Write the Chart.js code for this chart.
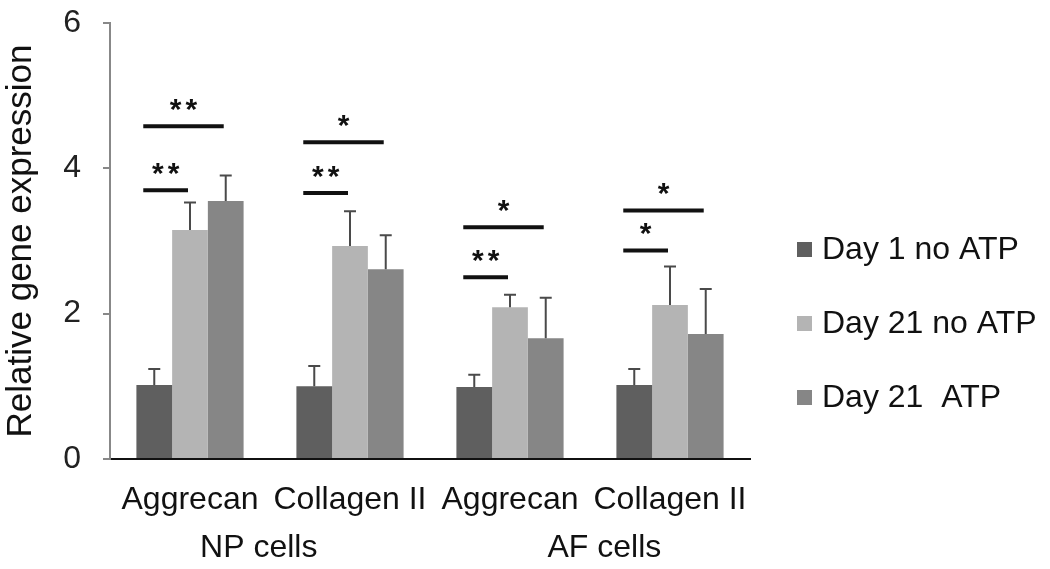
<!DOCTYPE html>
<html>
<head>
<meta charset="utf-8">
<script src="https://cdn.jsdelivr.net/npm/chart.js@4"></script>
<style>
  html, body { margin: 0; padding: 0; background: #fff; }
  #wrap { width: 1050px; height: 569px; }
</style>
</head>
<body>
<div id="wrap"><canvas id="geneChart" width="1050" height="569"></canvas></div>
<script>
// Data
const categories = ['Aggrecan', 'Collagen II', 'Aggrecan', 'Collagen II'];
const cellGroups = ['NP cells', 'AF cells'];
const seriesNames = ['Day 1 no ATP', 'Day 21 no ATP', 'Day 21  ATP'];
const day1NoAtp = [1.02, 1.00, 0.99, 1.02];
const day21NoAtp = [3.15, 2.93, 2.09, 2.12];
const day21Atp = [3.55, 2.61, 1.66, 1.72];
const day1NoAtpErr = [0.22, 0.28, 0.17, 0.22];
const day21NoAtpErr = [0.38, 0.48, 0.17, 0.53];
const day21AtpErr = [0.35, 0.47, 0.56, 0.62];
const yTicks = [0, 2, 4, 6];

// significance bars: category, compared series, height, label
const sigCategory = [0, 0, 1, 1, 2, 2, 3, 3];
const sigTarget = [1, 2, 1, 2, 1, 2, 1, 2];
const sigHeight = [3.70, 4.58, 3.66, 4.36, 2.50, 3.19, 2.87, 3.42];
const sigLabel = ['**', '**', '**', '*', '**', '*', '*', '*'];

const colors = ['#5f5f5f', '#b4b4b4', '#868686'];
const errors = [day1NoAtpErr, day21NoAtpErr, day21AtpErr];
const FONT = "'Liberation Sans', Arial, sans-serif";

// Error bars (upper only) + significance lines + cell labels + legend
const extrasPlugin = {
  id: 'extras',
  afterDatasetsDraw(chart) {
    const ctx = chart.ctx;
    const y = chart.scales.y;
    const x = chart.scales.x;
    const area = chart.chartArea;

    // error bars
    ctx.save();
    ctx.strokeStyle = '#4a4a4a';
    ctx.lineWidth = 2;
    chart.data.datasets.forEach((ds, i) => {
      const meta = chart.getDatasetMeta(i);
      meta.data.forEach((bar, j) => {
        const top = y.getPixelForValue(ds.data[j] + errors[i][j]);
        ctx.beginPath();
        ctx.moveTo(bar.x, bar.y);
        ctx.lineTo(bar.x, top);
        ctx.moveTo(bar.x - 6, top);
        ctx.lineTo(bar.x + 6, top);
        ctx.stroke();
      });
    });
    ctx.restore();

    // significance lines
    ctx.save();
    ctx.strokeStyle = '#111';
    ctx.fillStyle = '#111';
    ctx.lineWidth = 4;
    ctx.font = 'bold 30px ' + FONT;
    ctx.textAlign = 'center';
    ctx.textBaseline = 'alphabetic';
    ctx.letterSpacing = '4px';
    sigCategory.forEach((c, k) => {
      const from = chart.getDatasetMeta(0).data[c];
      const to = chart.getDatasetMeta(sigTarget[k]).data[c];
      const x0 = from.x - 11;
      const x1 = to.x - 2;
      const yy = y.getPixelForValue(sigHeight[k]);
      ctx.beginPath();
      ctx.moveTo(x0, yy);
      ctx.lineTo(x1, yy);
      ctx.stroke();
      ctx.fillText(sigLabel[k], (x0 + x1) / 2 + 2, yy - 7);
    });
    ctx.restore();

    // cell type labels under the category labels
    ctx.save();
    ctx.fillStyle = '#111';
    ctx.font = '32px ' + FONT;
    ctx.textAlign = 'center';
    ctx.textBaseline = 'alphabetic';
    const groupPos = [0.43, 2.59];
    cellGroups.forEach((g, i) => {
      ctx.fillText(g, x.getPixelForValue(groupPos[i]), area.bottom + 98);
    });
    ctx.restore();

    // legend
    ctx.save();
    ctx.font = '32px ' + FONT;
    ctx.textAlign = 'left';
    ctx.textBaseline = 'middle';
    seriesNames.forEach((name, i) => {
      const ly = area.top + 226 + i * 74;
      const lx = area.right + 47;
      ctx.fillStyle = colors[i];
      ctx.fillRect(lx, ly - 7, 15, 15);
      ctx.fillStyle = '#111';
      ctx.fillText(name, lx + 25, ly + 1);
    });
    ctx.restore();
  }
};

const ctx = document.getElementById('geneChart').getContext('2d');
const geneChart = new Chart(ctx, {
  type: 'bar',
  data: {
    labels: categories,
    datasets: [
      { label: seriesNames[0], data: day1NoAtp, backgroundColor: colors[0] },
      { label: seriesNames[1], data: day21NoAtp, backgroundColor: colors[1] },
      { label: seriesNames[2], data: day21Atp, backgroundColor: colors[2] }
    ]
  },
  options: {
    responsive: false,
    animation: false,
    devicePixelRatio: 1,
    layout: { padding: { left: 0, right: 300, top: 23, bottom: 0 } },
    datasets: {
      bar: { categoryPercentage: 0.67, barPercentage: 1.0, borderWidth: 0 }
    },
    plugins: {
      legend: { display: false },
      tooltip: { enabled: false }
    },
    scales: {
      x: {
        grid: { display: false },
        border: { display: true, color: '#111', width: 2 },
        ticks: {
          color: '#111',
          font: { family: FONT, size: 32 },
          padding: 14,
          maxRotation: 0,
          autoSkip: false
        },
        afterFit: (s) => { s.height = 110; }
      },
      y: {
        min: 0,
        max: 6,
        afterBuildTicks: (s) => { s.ticks = yTicks.map(v => ({ value: v })); },
        grid: {
          display: true,
          drawOnChartArea: false,
          drawTicks: true,
          tickLength: 7,
          color: '#888',
          lineWidth: 2
        },
        border: { display: true, color: '#888', width: 2 },
        ticks: {
          color: '#222',
          font: { family: FONT, size: 32, lineHeight: 1 },
          padding: 22
        },
        title: {
          display: true,
          text: 'Relative gene expression',
          color: '#111',
          font: { family: FONT, size: 35 },
          padding: 0
        },
        afterFit: (s) => {
          s.width = 110;
          s.paddingTop = 0;
          s.paddingBottom = 0;
        }
      }
    }
  },
  plugins: [extrasPlugin]
});
</script>
</body>
</html>
